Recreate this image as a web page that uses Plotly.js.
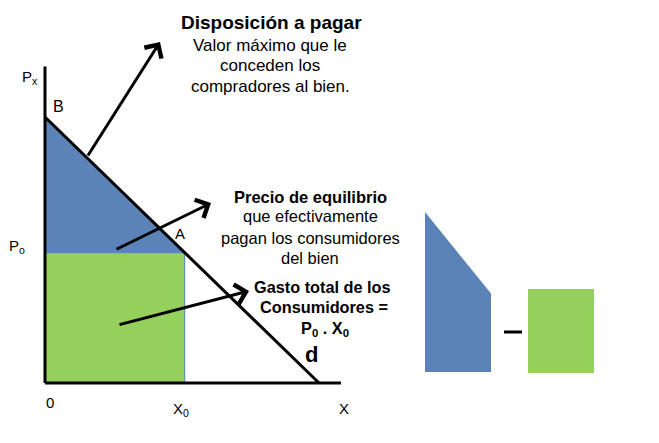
<!DOCTYPE html>
<html>
<head>
<meta charset="utf-8">
<script src="https://cdn.plot.ly/plotly-3.0.1.min.js"></script>
<style>html,body{margin:0;padding:0;background:#fff;}#chart{width:659px;height:443px;}</style>
</head>
<body>
<div id="chart"></div>
<script>
// ---- data (economic units) ----
const demandQ = [0, 10];          // quantity at B and at the x-intercept
const demandP = [10, 0];          // price at B and at the x-intercept
const X0 = 5.1;                   // equilibrium quantity
const P0 = 4.9;                   // equilibrium price
const Bprice = 10;                // maximum willingness to pay (point B)
const axisYTop = 11.9;            // length of drawn price axis
const axisXEnd = 10.8;            // length of drawn quantity axis

// surplus triangle and expenditure rectangle (built from the values above)
const surplusQ = [0, X0, 0, 0];
const surplusP = [Bprice, P0, P0, Bprice];
const spendQ = [0, X0, X0, 0, 0];
const spendP = [0, 0, P0, P0, 0];
const wtpQ = [0, X0, X0, 0, 0];
const wtpP = [0, 0, P0, Bprice, 0];

// ---- pixel helpers for placing text ----
const kx = 27.4, ky = 26.6, ox = 45, oy = 383;
const X = px => (px - ox) / kx;
const Y = py => (oy - py) / ky;

const BLUE = '#5b83b8', GREEN = '#95cf5c';
const font = 'Liberation Sans, Arial, sans-serif';

const traces = [
  {x: spendQ, y: spendP, mode: 'lines', fill: 'toself', fillcolor: GREEN,
   line: {color: '#4f7fb8', width: 1}, hoverinfo: 'skip'},
  {x: surplusQ, y: surplusP, mode: 'lines', fill: 'toself', fillcolor: BLUE,
   line: {color: BLUE, width: 0}, hoverinfo: 'skip'},
  {x: demandQ, y: demandP, mode: 'lines', line: {color: '#000', width: 3}, hoverinfo: 'skip'},
  {x: [0, 0], y: [0, axisYTop], mode: 'lines', line: {color: '#000', width: 3}, hoverinfo: 'skip'},
  {x: [0, axisXEnd], y: [0, 0], mode: 'lines', line: {color: '#000', width: 3}, hoverinfo: 'skip'},
  {x: wtpQ, y: wtpP, xaxis: 'x2', yaxis: 'y2', mode: 'lines', fill: 'toself', fillcolor: BLUE,
   line: {color: BLUE, width: 0}, hoverinfo: 'skip'},
  {x: spendQ, y: spendP, xaxis: 'x3', yaxis: 'y3', mode: 'lines', fill: 'toself', fillcolor: GREEN,
   line: {color: GREEN, width: 0}, hoverinfo: 'skip'}
];

const hid = {visible: false, showgrid: false, zeroline: false, fixedrange: true};

function txt(px, py, text, size, extra) {
  return Object.assign({x: X(px), y: Y(py), xref: 'x', yref: 'y', text: text, showarrow: false,
    font: {family: font, size: size, color: '#000'}, xanchor: 'center', yanchor: 'middle'}, extra || {});
}
function arrow(x1, y1, x2, y2) {
  return {x: X(x2), y: Y(y2), ax: X(x1), ay: Y(y1), xref: 'x', yref: 'y', axref: 'x', ayref: 'y',
    text: '', showarrow: true, arrowhead: 4, arrowsize: 1.3, arrowwidth: 3, arrowcolor: '#000'};
}

const annotations = [
  arrow(87, 157, 160, 42),
  arrow(115, 250, 211, 203),
  arrow(118, 325, 249, 291),
  txt(271, 22, '<b>Disposición a pagar</b>', 19),
  txt(270, 45, 'Valor máximo que le', 17),
  txt(270, 65, 'conceden los', 17),
  txt(270, 86, 'compradores al bien.', 17),
  txt(310, 197, '<b>Precio de equilibrio</b>', 16.5),
  txt(310, 216, 'que efectivamente', 16.5),
  txt(310, 238, 'pagan los consumidores', 16.5),
  txt(310, 258, 'del bien', 16.5),
  txt(322, 287, '<b>Gasto total de los</b>', 16.3),
  txt(324, 307, '<b>Consumidores =</b>', 16.3),
  txt(325, 329, '<b>P<sub>0</sub> . X<sub>0</sub></b>', 16.3),
  txt(30, 77, 'P<sub>x</sub>', 15),
  txt(58, 106, 'B', 16),
  txt(17, 246, 'P<sub>o</sub>', 15),
  txt(180, 233, 'A', 15),
  txt(50, 402, '0', 15),
  txt(181, 409, 'X<sub>0</sub>', 15),
  txt(344, 408, 'X', 15),
  txt(311, 354, '<b>d</b>', 22)
];

const layout = {
  width: 659, height: 443,
  margin: {l: 0, r: 0, t: 0, b: 0},
  paper_bgcolor: '#fff', plot_bgcolor: '#fff',
  showlegend: false,
  xaxis: Object.assign({range: [X(0), X(659)], domain: [0, 1]}, hid),
  yaxis: Object.assign({range: [Y(443), Y(0)], domain: [0, 1]}, hid),
  xaxis2: Object.assign({range: [0, X0], domain: [425/659, 491/659], anchor: 'y2'}, hid),
  yaxis2: Object.assign({range: [0, Bprice], domain: [(443-372)/443, (443-212)/443], anchor: 'x2'}, hid),
  xaxis3: Object.assign({range: [0, X0], domain: [528/659, 594/659], anchor: 'y3'}, hid),
  yaxis3: Object.assign({range: [0, P0], domain: [(443-373)/443, (443-289)/443], anchor: 'x3'}, hid),
  shapes: [
    {type: 'line', xref: 'paper', yref: 'paper', x0: 504/659, x1: 522/659, y0: 1-332/443, y1: 1-332/443,
     line: {color: '#000', width: 3}}
  ],
  annotations: annotations
};

Plotly.newPlot('chart', traces, layout, {staticPlot: true, displayModeBar: false});
</script>
</body>
</html>
